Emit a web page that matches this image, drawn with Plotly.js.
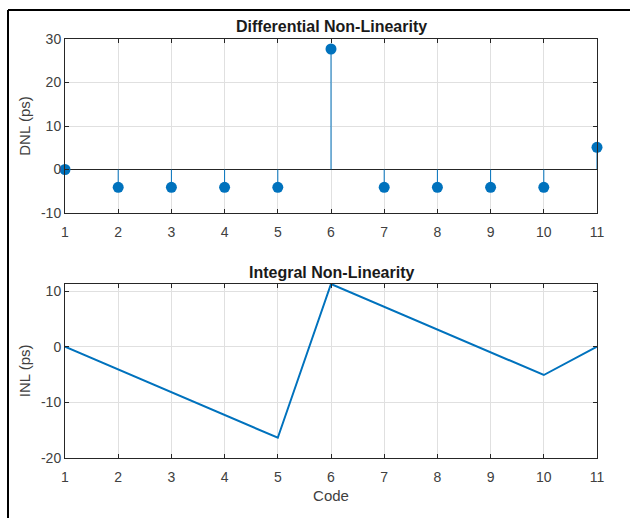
<!DOCTYPE html>
<html>
<head>
<meta charset="utf-8">
<script src="https://cdn.plot.ly/plotly-3.0.1.min.js"></script>
<style>html,body{margin:0;padding:0;background:#fff;}#chart{width:630px;height:518px;}</style>
</head>
<body>
<div id="chart"></div>
<script>
const codes = [1, 2, 3, 4, 5, 6, 7, 8, 9, 10, 11];
const dnl = [0, -4.1, -4.1, -4.1, -4.1, 27.7, -4.1, -4.1, -4.1, -4.1, 5.1];
const inl = [0, -4.1, -8.2, -12.3, -16.4, 11.3, 7.2, 3.1, -1.0, -5.1, 0];
const xTicks = [1, 2, 3, 4, 5, 6, 7, 8, 9, 10, 11];
const dnlTicks = [-10, 0, 10, 20, 30];
const dnlTickText = ['-10', '0', '10', '20', '30'];
const inlTicks = [-20, -10, 0, 10];
const inlTickText = ['-20', '-10', '0', '10'];

const blue = '#0072BD';
const axisColor = '#262626';
const gridColor = '#e0e0e0';

// stems built from data
const stemX = [], stemY = [];
codes.forEach((c, i) => { stemX.push(c, c, null); stemY.push(0, dnl[i], null); });

const traces = [
  {x: stemX, y: stemY, type: 'scatter', mode: 'lines', line: {color: blue, width: 1}, xaxis: 'x', yaxis: 'y', hoverinfo: 'skip', showlegend: false},
  {x: codes, y: dnl, type: 'scatter', mode: 'markers', marker: {color: blue, size: 11}, cliponaxis: false, xaxis: 'x', yaxis: 'y', showlegend: false},
  {x: codes, y: inl, type: 'scatter', mode: 'lines', line: {color: blue, width: 2}, xaxis: 'x2', yaxis: 'y2', showlegend: false}
];

const fam = 'Liberation Sans, Arial, sans-serif';
const font = {family: fam, size: 14, color: '#404040'};
const xDom = [65/630, 597/630];
const axCommon = {
  showline: true, linecolor: axisColor, linewidth: 1, mirror: 'ticks',
  ticks: 'inside', ticklen: 4, tickcolor: axisColor, tickwidth: 1,
  showgrid: true, gridcolor: gridColor, gridwidth: 1,
  tickfont: {family: fam, size: 14, color: '#404040'},
  fixedrange: true
};
const labFont = {family: fam, size: 15, color: '#404040'};

const layout = {
  width: 630, height: 518,
  margin: {l: 0, r: 0, t: 0, b: 0},
  paper_bgcolor: '#fff', plot_bgcolor: '#fff',
  font: font,
  showlegend: false,
  xaxis: Object.assign({}, axCommon, {domain: xDom, range: [1, 11], tickvals: xTicks, anchor: 'y', zeroline: false, ticklabelstandoff: 6}),
  yaxis: Object.assign({}, axCommon, {domain: [(518-213)/518, (518-39)/518], range: [-10, 30], tickvals: dnlTicks, ticktext: dnlTickText, anchor: 'x',
    zeroline: true, zerolinecolor: axisColor, zerolinewidth: 1,
    title: {text: 'DNL (ps)', font: labFont, standoff: 6}}),
  xaxis2: Object.assign({}, axCommon, {domain: xDom, range: [1, 11], tickvals: xTicks, anchor: 'y2', zeroline: false, ticklabelstandoff: 6,
    title: {text: 'Code', font: labFont, standoff: 6}}),
  yaxis2: Object.assign({}, axCommon, {domain: [(518-457.7)/518, (518-284)/518], range: [-20, 11.3], tickvals: inlTicks, ticktext: inlTickText, anchor: 'x2',
    zeroline: false,
    title: {text: 'INL (ps)', font: labFont, standoff: 6}}),
  annotations: [
    {text: '<b>Differential Non-Linearity</b>', xref: 'paper', yref: 'paper', x: 331/630, y: 1 - 26.5/518, xanchor: 'center', yanchor: 'middle', showarrow: false, font: {family: fam, size: 16, color: '#1a1a1a'}},
    {text: '<b>Integral Non-Linearity</b>', xref: 'paper', yref: 'paper', x: 331/630, y: 1 - 272/518, xanchor: 'center', yanchor: 'middle', showarrow: false, font: {family: fam, size: 16, color: '#1a1a1a'}}
  ],
  shapes: [
    {type: 'line', xref: 'paper', yref: 'paper', x0: 8/630, x1: 8/630, y0: 1 - 10/518, y1: 0, line: {color: '#000', width: 2}},
    {type: 'line', xref: 'paper', yref: 'paper', x0: 8/630, x1: 1, y0: 1 - 10/518, y1: 1 - 10/518, line: {color: '#000', width: 2}}
  ]
};

Plotly.newPlot('chart', traces, layout, {displayModeBar: false, staticPlot: true});
</script>
</body>
</html>
